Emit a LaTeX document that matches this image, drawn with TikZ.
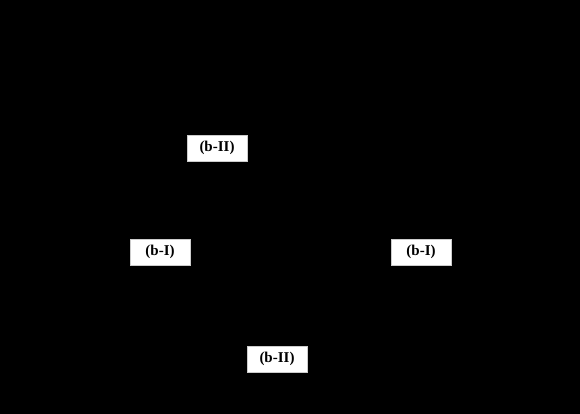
\documentclass[tikz,border=0pt]{standalone}
\usepackage{fontspec}
\setmainfont{Liberation Serif}
\begin{document}
\begin{tikzpicture}[x=1pt,y=-1pt,
  lbl/.style={fill=white,draw=gray!40,line width=0.4pt,minimum width=60pt,minimum height=26pt,inner sep=0pt,
    font=\fontsize{15}{15}\selectfont\bfseries}]
\fill[black] (0,0) rectangle (580,414);
\useasboundingbox (0,0) rectangle (580,414);
\node[lbl] (b2top) at (217,148) {(b-II)};
\node[lbl] (b1left) at (160,252) {(b-I)};
\node[lbl] (b1right) at (421,252) {(b-I)};
\node[lbl] (b2bot) at (277,359) {(b-II)};
\end{tikzpicture}
\end{document}
